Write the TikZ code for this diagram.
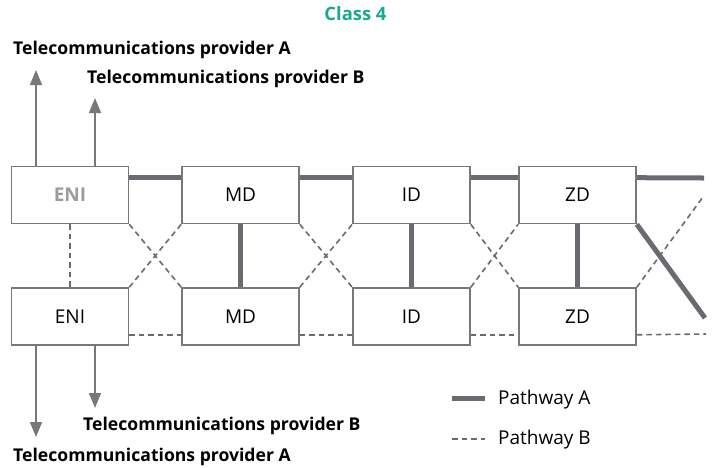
\documentclass[tikz,border=0pt]{standalone}
\usepackage{fontspec}
\setmainfont{Open Sans}
\usetikzlibrary{calc,arrows.meta}
\definecolor{linegray}{HTML}{6A6B70}
\definecolor{boxgray}{HTML}{77777C}
\definecolor{teal4}{HTML}{1AA98C}
\definecolor{faint}{HTML}{9C9CA0}
\begin{document}
\begin{tikzpicture}[x=1pt,y=-1pt,
  box/.style={draw=boxgray,line width=1.6pt,minimum width=117pt,minimum height=57pt,inner sep=0pt,font=\fontsize{19}{21}\selectfont},
  patha/.style={draw=linegray,line width=5pt},
  pathb/.style={draw=linegray,line width=1.6pt,dash pattern=on 5.5pt off 4pt},
  prov/.style={draw=boxgray,line width=1.6pt,-{Triangle[width=12pt,length=15pt]}},
  lbl/.style={anchor=west,inner sep=0pt,font=\fontsize{17.6}{20}\selectfont\bfseries},
  leg/.style={anchor=west,inner sep=0pt,font=\fontsize{19}{21}\selectfont}]
\useasboundingbox (0,0) rectangle (723,467);
% title
\node[inner sep=0pt,text=teal4,font=\fontsize{18.4}{20}\selectfont\bfseries] (title) at (355.5,14) {Class 4};
% boxes
\node[box,text=faint] (eni1) at (70,195) {\bfseries ENI};
\node[box] (md1) at (240.5,195) {MD};
\node[box] (id1) at (411.5,195) {ID};
\node[box] (zd1) at (577.5,195) {ZD};
\node[box] (eni2) at (70,316.5) {ENI};
\node[box] (md2) at (240.5,316.5) {MD};
\node[box] (id2) at (411.5,316.5) {ID};
\node[box] (zd2) at (577.5,316.5) {ZD};
% free ends
\coordinate (ta) at (704,178);
\coordinate (tb) at (705,318);
\coordinate (da) at (703,197);
\coordinate (db) at (706,334);
% labels
\node[lbl] (provA1) at (13,50) {Telecommunications provider A};
\node[lbl] (provB1) at (87,79) {Telecommunications provider B};
\node[lbl] (provB2) at (83,426) {Telecommunications provider B};
\node[lbl] (provA2) at (13,457) {Telecommunications provider A};
\coordinate (upA) at (36,70);
\coordinate (upB) at (95,98);
\coordinate (dnA) at (36,437);
\coordinate (dnB) at (95,408);
% pathway A (thick)
\draw[patha] ($(eni1.north east)+(0,12)$) -- ($(md1.north west)+(0,12)$);
\draw[patha] ($(md1.north east)+(0,12)$) -- ($(id1.north west)+(0,12)$);
\draw[patha] ($(id1.north east)+(0,12)$) -- ($(zd1.north west)+(0,12)$);
\draw[patha] ($(zd1.north east)+(0,12)$) -- (ta);
\draw[patha] (md1.south) -- (md2.north);
\draw[patha] (id1.south) -- (id2.north);
\draw[patha] (zd1.south) -- (zd2.north);
\draw[patha] (zd1.south east) -- (tb);
% pathway B (dashed)
\draw[pathb] (eni1.south) -- (eni2.north);
\draw[pathb] (eni1.south east) -- (md2.north west);
\draw[pathb] (eni2.north east) -- (md1.south west);
\draw[pathb] (md1.south east) -- (id2.north west);
\draw[pathb] (md2.north east) -- (id1.south west);
\draw[pathb] (id1.south east) -- (zd2.north west);
\draw[pathb] (id2.north east) -- (zd1.south west);
\draw[pathb] (zd2.north east) -- (da);
\draw[pathb] ($(eni2.south east)+(0,-11)$) -- ($(md2.south west)+(0,-11)$);
\draw[pathb] ($(md2.south east)+(0,-11)$) -- ($(id2.south west)+(0,-11)$);
\draw[pathb] ($(id2.south east)+(0,-11)$) -- ($(zd2.south west)+(0,-11)$);
\draw[pathb] ($(zd2.south east)+(0,-11)$) -- (db);
% provider arrows
\draw[prov] (eni1.north -| upA) -- (upA);
\draw[prov] (eni1.north -| upB) -- (upB);
\draw[prov] (eni2.south -| dnA) -- (dnA);
\draw[prov] (eni2.south -| dnB) -- (dnB);
% legend
\coordinate (la1) at (452,398);
\coordinate (la2) at (485,398);
\coordinate (lb1) at (452,439);
\coordinate (lb2) at (485,439);
\draw[patha] (la1) -- (la2);
\draw[pathb] (lb1) -- (lb2);
\node[leg] (legA) at (498,400) {Pathway A};
\node[leg] (legB) at (498,440) {Pathway B};
\end{tikzpicture}
\end{document}
